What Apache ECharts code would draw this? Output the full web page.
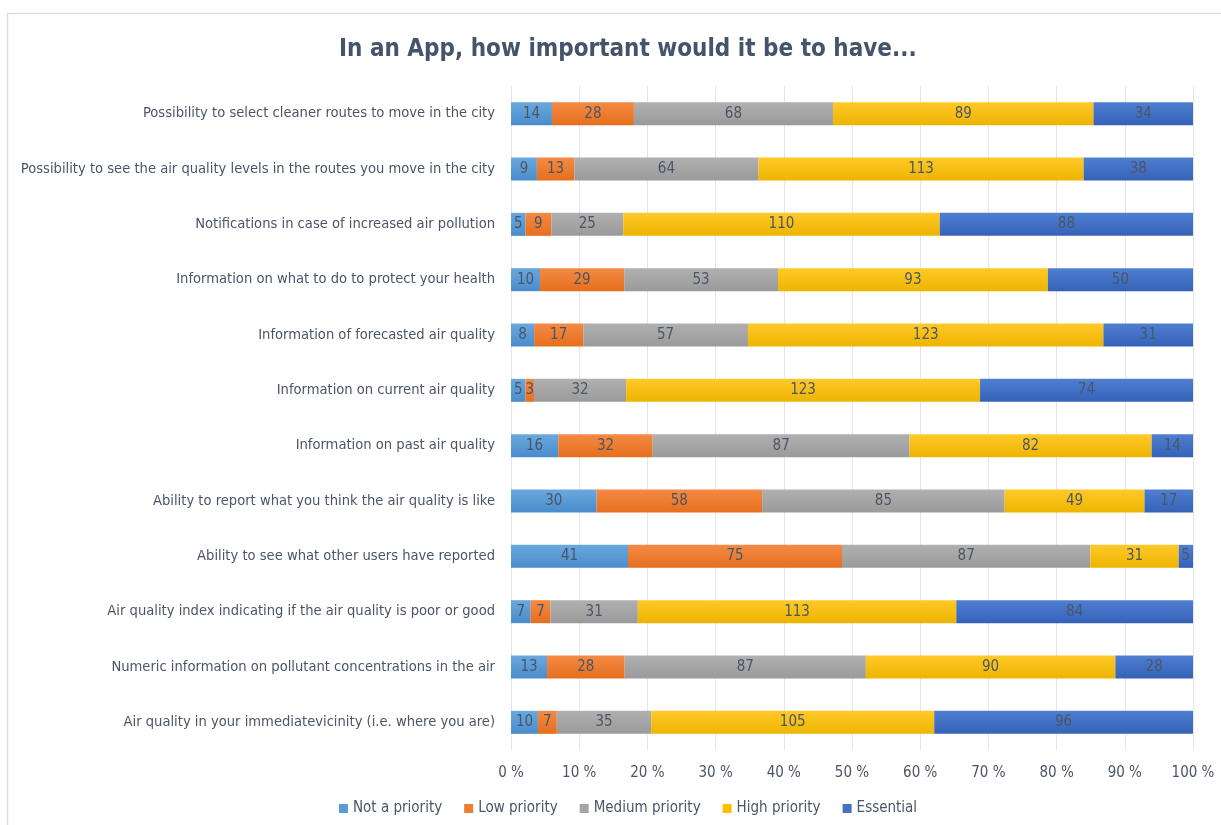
<!DOCTYPE html>
<html>
<head>
<meta charset="utf-8">
<script src="https://cdn.jsdelivr.net/npm/echarts@6/dist/echarts.min.js"></script>
<style>
  html, body { margin: 0; padding: 0; background: #fff; }
  #chart { width: 1221px; height: 825px; }
</style>
</head>
<body>
<div id="chart"></div>
<script>
// Survey features, listed top to bottom as shown
const categories = [
  'Possibility to select cleaner routes to move in the city',
  'Possibility to see the air quality levels in the routes you move in the city',
  'Notifications in case of increased air pollution',
  'Information on what to do to protect your health',
  'Information of forecasted air quality',
  'Information on current air quality',
  'Information on past air quality',
  'Ability to report what you think the air quality is like',
  'Ability to see what other users have reported',
  'Air quality index indicating if the air quality is poor or good',
  'Numeric information on pollutant concentrations in the air',
  'Air quality in your immediatevicinity (i.e. where you are)'
];

// Response counts per priority level
const notAPriority   = [14, 9, 5, 10, 8, 5, 16, 30, 41, 7, 13, 10];
const lowPriority    = [28, 13, 9, 29, 17, 3, 32, 58, 75, 7, 28, 7];
const mediumPriority = [68, 64, 25, 53, 57, 32, 87, 85, 87, 31, 87, 35];
const highPriority   = [89, 113, 110, 93, 123, 123, 82, 49, 31, 113, 90, 105];
const essential      = [34, 38, 88, 50, 31, 74, 14, 17, 5, 84, 28, 96];

const seriesNames = ['Not a priority', 'Low priority', 'Medium priority', 'High priority', 'Essential'];
const xTicks = [0, 10, 20, 30, 40, 50, 60, 70, 80, 90, 100];

const counts = [notAPriority, lowPriority, mediumPriority, highPriority, essential];
const totals = categories.map((_, i) => counts.reduce((s, arr) => s + arr[i], 0));

// [top, bottom] gradient stops for each level
const palette = [
  ['#6AA8DE', '#4A8CCB'],
  ['#F48A44', '#E56F1E'],
  ['#B0B0B0', '#9A9A9A'],
  ['#FFC929', '#EDB400'],
  ['#4F7FD0', '#3562B8']
];
const legendColors = ['#5B9BD5', '#ED7D31', '#A5A5A5', '#FFC000', '#4472C4'];

const textColor = '#4A5568';
const font = '"Liberation Sans Narrow", "DejaVu Sans Condensed", "Liberation Sans", sans-serif';

const chart = echarts.init(document.getElementById('chart'), null, { renderer: 'canvas' });

const series = seriesNames.map((name, k) => ({
  name,
  type: 'bar',
  stack: 'total',
  barWidth: 23,
  color: legendColors[k],
  itemStyle: {
    color: new echarts.graphic.LinearGradient(0, 0, 0, 1, [
      { offset: 0, color: palette[k][0] },
      { offset: 1, color: palette[k][1] }
    ])
  },
  label: {
    show: true,
    position: 'inside',
    color: textColor,
    fontFamily: font,
    fontSize: 15,
    formatter: p => String(counts[k][p.dataIndex])
  },
  data: counts[k].map((v, i) => v / totals[i] * 100)
}));

chart.setOption({
  backgroundColor: '#ffffff',
  animation: false,
  title: {
    text: 'In an App, how important would it be to have...',
    left: 334,
    top: 33,
    textStyle: {
      color: '#44546A',
      fontFamily: font,
      fontWeight: 'bold',
      fontSize: 24
    }
  },
  graphic: [{
    type: 'rect',
    shape: { x: 7.5, y: 13.5, width: 1400, height: 1000 },
    style: { fill: 'none', stroke: '#DADDE2', lineWidth: 1.5 },
    silent: true,
    z: -1
  }],
  legend: {
    bottom: 4,
    left: 334,
    itemWidth: 9,
    itemHeight: 9,
    itemGap: 22,
    icon: 'rect',
    textStyle: { color: textColor, fontFamily: font, fontSize: 15 },
    data: seriesNames.map((n, k) => ({ name: n, itemStyle: { color: legendColors[k] } }))
  },
  grid: { left: 511, right: 28, top: 86, bottom: 75, containLabel: false },
  xAxis: {
    type: 'value',
    min: 0,
    max: 100,
    interval: 10,
    axisLine: { show: false },
    axisTick: { show: false },
    splitLine: { show: true, lineStyle: { color: '#E3E5EA', width: 1 } },
    axisLabel: {
      color: textColor,
      fontFamily: font,
      fontSize: 15,
      margin: 16,
      formatter: v => xTicks.includes(v) ? v + ' %' : ''
    }
  },
  yAxis: {
    type: 'category',
    data: categories,
    inverse: true,
    axisLine: { show: false },
    axisTick: { show: false },
    splitLine: { show: false },
    axisLabel: {
      color: textColor,
      fontFamily: font,
      fontSize: 14.6,
      margin: 16
    }
  },
  series
});
</script>
</body>
</html>
